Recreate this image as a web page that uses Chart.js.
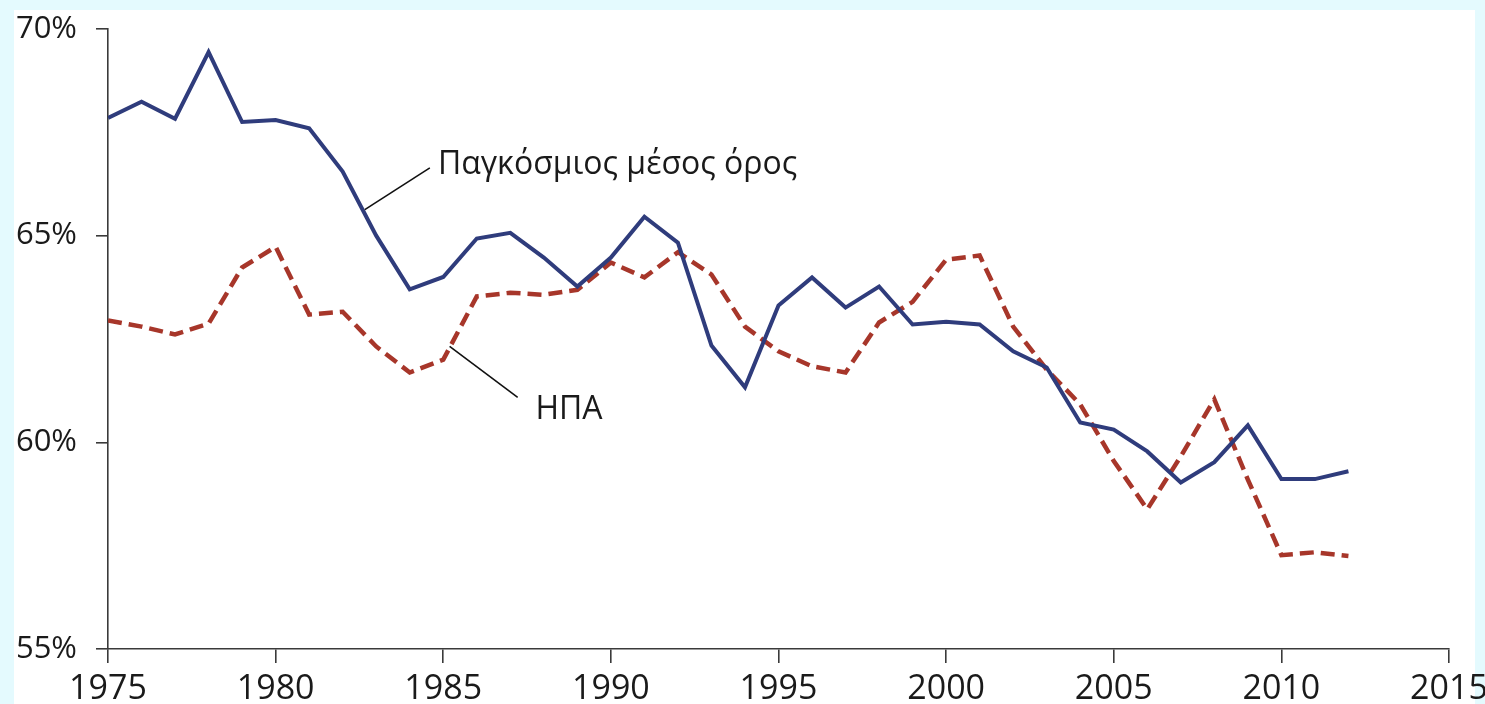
<!DOCTYPE html>
<html>
<head>
<meta charset="utf-8">
<script src="https://cdn.jsdelivr.net/npm/chart.js@4/dist/chart.umd.min.js"></script>
<style>
  html, body { margin: 0; padding: 0; background: #E4FAFE; }
  #wrap { position: relative; width: 1485px; height: 704px; }
</style>
</head>
<body>
<div id="wrap"><canvas id="chart" width="1485" height="704"></canvas></div>
<script>
const years = [1975, 1976, 1977, 1978, 1979, 1980, 1981, 1982, 1983, 1984, 1985, 1986, 1987,
  1988, 1989, 1990, 1991, 1992, 1993, 1994, 1995, 1996, 1997, 1998, 1999, 2000, 2001, 2002,
  2003, 2004, 2005, 2006, 2007, 2008, 2009, 2010, 2011, 2012];

// Παγκόσμιος μέσος όρος (%)
const worldAvg = [67.85, 68.24, 67.83, 69.44, 67.75, 67.8, 67.6, 66.55, 65.0, 63.7, 64.0, 64.93, 65.07,
  64.47, 63.77, 64.47, 65.46, 64.83, 62.34, 61.33, 63.31, 63.99, 63.26, 63.77, 62.85, 62.92, 62.85, 62.2,
  61.81, 60.48, 60.31, 59.78, 59.03, 59.52, 60.41, 59.11, 59.11, 59.3];

// ΗΠΑ (%)
const usa = [62.95, 62.8, 62.61, 62.87, 64.23, 64.73, 63.09, 63.16, 62.32, 61.69, 62.0, 63.53, 63.62,
  63.57, 63.69, 64.35, 63.99, 64.6, 64.06, 62.8, 62.2, 61.84, 61.69, 62.9, 63.4, 64.42, 64.52, 62.8,
  61.76, 60.92, 59.55, 58.38, 59.66, 61.04, 59.1, 57.27, 57.34, 57.25];

const xTicks = [1975, 1980, 1985, 1990, 1995, 2000, 2005, 2010, 2015];
const yTicks = [55, 60, 65, 70];

// label text, leader line start/end and text anchor, in data units (year, %)
const labels = [
  { text: 'Παγκόσμιος μέσος όρος', from: [1982.66, 65.63], to: [1984.6, 66.64], at: [1984.84, 66.71] },
  { text: 'ΗΠΑ', from: [1985.19, 62.32], to: [1987.22, 61.09], at: [1987.75, 60.78] }
];

const FONT = "'Open Sans', 'Noto Sans', sans-serif";
const AXIS = '#3a3a3a';

const panelPlugin = {
  id: 'panel',
  beforeDraw(chart) {
    const ctx = chart.ctx;
    ctx.save();
    ctx.fillStyle = '#FFFFFF';
    ctx.fillRect(14, 10, 1461, 694);
    ctx.restore();
  }
};

const labelPlugin = {
  id: 'lineLabels',
  afterDatasetsDraw(chart) {
    const { ctx, scales: { x, y } } = chart;
    ctx.save();
    ctx.strokeStyle = '#111';
    ctx.lineWidth = 1.6;
    ctx.fillStyle = '#1a1a1a';
    ctx.font = '32px ' + FONT;
    ctx.textBaseline = 'middle';
    labels.forEach(l => {
      ctx.beginPath();
      ctx.moveTo(x.getPixelForValue(l.from[0]), y.getPixelForValue(l.from[1]));
      ctx.lineTo(x.getPixelForValue(l.to[0]), y.getPixelForValue(l.to[1]));
      ctx.stroke();
      ctx.fillText(l.text, x.getPixelForValue(l.at[0]), y.getPixelForValue(l.at[1]));
    });
    ctx.restore();
  }
};

new Chart(document.getElementById('chart'), {
  type: 'line',
  data: {
    datasets: [
      {
        label: 'Παγκόσμιος μέσος όρος',
        data: years.map((yr, i) => ({ x: yr, y: worldAvg[i] })),
        borderColor: '#2F3C7C', borderWidth: 4, pointRadius: 0, tension: 0,
        borderJoinStyle: 'miter'
      },
      {
        label: 'ΗΠΑ',
        data: years.map((yr, i) => ({ x: yr, y: usa[i] })),
        borderColor: '#A7362A', borderWidth: 4.5, borderDash: [14, 7], pointRadius: 0, tension: 0,
        borderJoinStyle: 'miter'
      }
    ]
  },
  options: {
    responsive: false,
    animation: false,
    layout: { padding: { top: 29, right: 36, left: 0, bottom: 0 } },
    plugins: { legend: { display: false }, tooltip: { enabled: false } },
    scales: {
      x: {
        type: 'linear', min: 1975, max: 2015,
        afterBuildTicks: s => { s.ticks = xTicks.map(v => ({ value: v })); },
        afterFit: s => { s.height = 55; s.paddingLeft = 0; s.paddingRight = 0; },
        ticks: { color: '#1a1a1a', padding: 6, font: { family: FONT, size: 34 }, callback: v => String(v) },
        grid: { drawOnChartArea: false, drawTicks: true, tickLength: 14, color: AXIS, lineWidth: 1.6 },
        border: { display: true, color: AXIS, width: 1.6 }
      },
      y: {
        min: 55, max: 70,
        afterBuildTicks: s => { s.ticks = yTicks.map(v => ({ value: v })); },
        afterFit: s => { s.width = 108; s.paddingTop = 0; s.paddingBottom = 0; },
        ticks: { color: '#1a1a1a', padding: 19, font: { family: FONT, size: 31 }, callback: v => v + '%' },
        grid: { drawOnChartArea: false, drawTicks: true, tickLength: 12, color: AXIS, lineWidth: 1.6 },
        border: { display: true, color: AXIS, width: 1.6 }
      }
    }
  },
  plugins: [panelPlugin, labelPlugin]
});
</script>
</body>
</html>
